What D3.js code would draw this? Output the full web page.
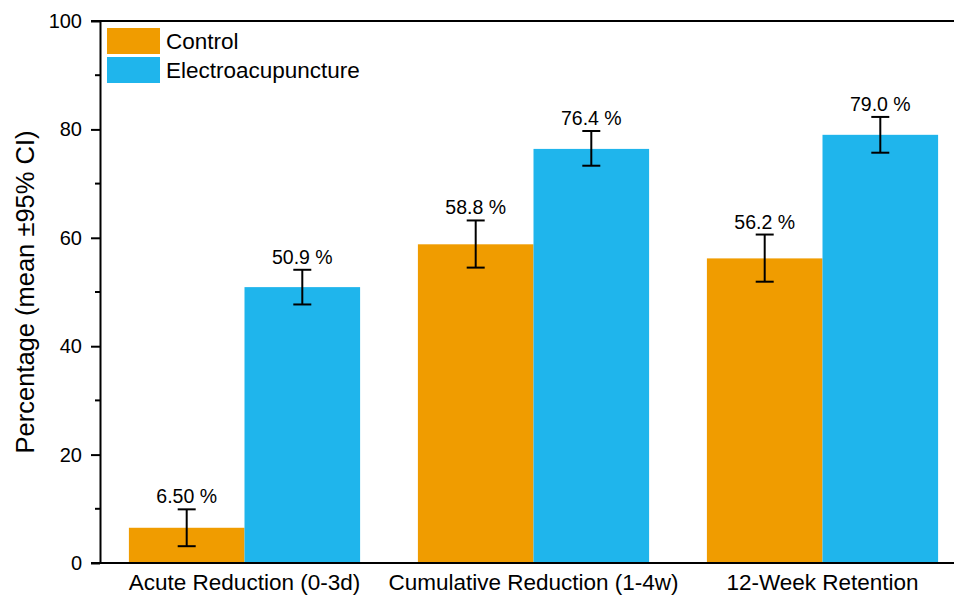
<!DOCTYPE html>
<html>
<head>
<meta charset="utf-8">
<script src="https://cdn.jsdelivr.net/npm/d3@7"></script>
<style>
  body { margin: 0; background: #fff; }
  svg { display: block; font-family: "Liberation Sans", Arial, sans-serif; }
</style>
</head>
<body>
<svg id="chart"></svg>
<script>
(() => {

  const categories = ['Acute Reduction (0-3d)', 'Cumulative Reduction (1-4w)', '12-Week Retention'];
  const seriesNames = ['Control', 'Electroacupuncture'];
  const seriesColors = ['#F09C00', '#1FB5EC'];
  const controlMeans = [6.5, 58.8, 56.2];
  const controlLow = [3.1, 54.5, 51.9];
  const controlHigh = [9.9, 63.2, 60.6];
  const eaMeans = [50.9, 76.4, 79.0];
  const eaLow = [47.7, 73.3, 75.7];
  const eaHigh = [54.1, 79.7, 82.3];
  const valueLabels = [['6.50 %', '58.8 %', '56.2 %'], ['50.9 %', '76.4 %', '79.0 %']];
  const yTicks = [0, 20, 40, 60, 80, 100];
  const yMinorTicks = [10, 30, 50, 70, 90];

  const svgWidth = 954;
  const svgHeight = 596;
  const margin = { top: 21, left: 100, bottom: 33 };

  const svg = d3.select('#chart')
    .attr('width', svgWidth)
    .attr('height', svgHeight);

  const rows = [];
  categories.forEach((cat, i) => {
    rows.push({ cat, series: 0, mean: controlMeans[i], lo: controlLow[i], hi: controlHigh[i], label: valueLabels[0][i] });
    rows.push({ cat, series: 1, mean: eaMeans[i], lo: eaLow[i], hi: eaHigh[i], label: valueLabels[1][i] });
  });

  const xScale = d3.scaleBand()
    .domain(categories)
    .range([margin.left, 967])
    .paddingInner(0.2)
    .paddingOuter(0.1);

  const xInner = d3.scaleBand()
    .domain([0, 1])
    .range([0, xScale.bandwidth()]);

  const yScale = d3.scaleLinear()
    .domain([0, 100])
    .range([svgHeight - margin.bottom, margin.top]);

  // bars
  svg.append('g')
    .selectAll('rect')
    .data(rows)
    .enter()
    .append('rect')
    .attr('x', d => xScale(d.cat) + xInner(d.series))
    .attr('y', d => yScale(d.mean))
    .attr('width', xInner.bandwidth())
    .attr('height', d => yScale(0) - yScale(d.mean))
    .attr('fill', d => seriesColors[d.series]);

  // error bars
  const capHalf = 9;
  const err = svg.append('g')
    .attr('stroke', '#000')
    .attr('stroke-width', 2)
    .selectAll('g')
    .data(rows)
    .enter()
    .append('g')
    .attr('transform', d => `translate(${xScale(d.cat) + xInner(d.series) + xInner.bandwidth() / 2},0)`);

  err.append('line')
    .attr('y1', d => yScale(d.lo))
    .attr('y2', d => yScale(d.hi));
  err.append('line')
    .attr('x1', -capHalf).attr('x2', capHalf)
    .attr('y1', d => yScale(d.lo)).attr('y2', d => yScale(d.lo));
  err.append('line')
    .attr('x1', -capHalf).attr('x2', capHalf)
    .attr('y1', d => yScale(d.hi)).attr('y2', d => yScale(d.hi));

  // value labels
  svg.append('g')
    .selectAll('text')
    .data(rows)
    .enter()
    .append('text')
    .attr('x', d => xScale(d.cat) + xInner(d.series) + xInner.bandwidth() / 2)
    .attr('y', d => yScale(d.hi) - 6)
    .attr('text-anchor', 'middle')
    .attr('font-size', 19.5)
    .attr('fill', '#000')
    .text(d => d.label);

  // y axis
  const yAxis = svg.append('g')
    .attr('transform', `translate(${margin.left},0)`)
    .call(d3.axisLeft(yScale).tickValues(yTicks).tickSize(9).tickSizeOuter(0).tickPadding(9).tickFormat(d3.format('d')));
  yAxis.selectAll('.tick text').attr('font-size', 20).attr('fill', '#000');
  yAxis.selectAll('line, path').attr('stroke', '#000').attr('stroke-width', 2);
  yAxis.attr('font-family', null);

  svg.append('g')
    .attr('transform', `translate(${margin.left},0)`)
    .selectAll('line')
    .data(yMinorTicks)
    .enter()
    .append('line')
    .attr('x1', -5).attr('x2', 0)
    .attr('y1', d => yScale(d)).attr('y2', d => yScale(d))
    .attr('stroke', '#000').attr('stroke-width', 2);

  // x axis line and top frame
  svg.append('line')
    .attr('x1', margin.left - 9).attr('x2', svgWidth)
    .attr('y1', yScale(0)).attr('y2', yScale(0))
    .attr('stroke', '#000').attr('stroke-width', 2);
  svg.append('line')
    .attr('x1', margin.left - 9).attr('x2', svgWidth)
    .attr('y1', yScale(100)).attr('y2', yScale(100))
    .attr('stroke', '#000').attr('stroke-width', 2);

  // category labels
  svg.append('g')
    .selectAll('text')
    .data(categories)
    .enter()
    .append('text')
    .attr('x', d => xScale(d) + xScale.bandwidth() / 2)
    .attr('y', 590)
    .attr('text-anchor', 'middle')
    .attr('font-size', 22.5)
    .attr('fill', '#000')
    .text(d => d);

  // y title
  svg.append('text')
    .attr('transform', `translate(34,${(yScale(0) + yScale(100)) / 2}) rotate(-90)`)
    .attr('text-anchor', 'middle')
    .attr('font-size', 25.5)
    .attr('fill', '#000')
    .text('Percentage (mean ±95% CI)');

  // legend
  const legend = svg.append('g')
    .selectAll('g')
    .data(seriesNames)
    .enter()
    .append('g')
    .attr('transform', (d, i) => `translate(107,${28 + i * 29})`);
  legend.append('rect')
    .attr('width', 53).attr('height', 26)
    .attr('fill', (d, i) => seriesColors[i]);
  legend.append('text')
    .attr('x', 59).attr('y', 13)
    .attr('dy', '0.35em')
    .attr('font-size', 22.5)
    .attr('fill', '#000')
    .text(d => d);

})();
</script>
</body>
</html>
